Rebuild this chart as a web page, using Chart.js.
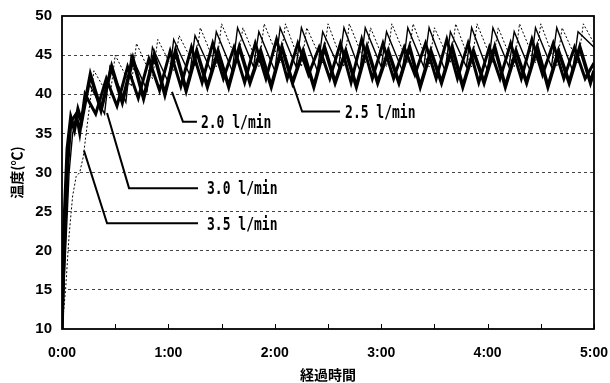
<!DOCTYPE html>
<html><head><meta charset="utf-8">
<script src="https://cdn.jsdelivr.net/npm/chart.js@4"></script>
<style>html,body{margin:0;padding:0;background:#fff}</style>
</head><body>
<canvas id="c" width="610" height="383"></canvas>
<script>
// ---- axis ticks ----
const xTickMinutes = [0, 60, 120, 180, 240, 300];
const xTickLabels = ['0:00', '1:00', '2:00', '3:00', '4:00', '5:00'];
const xMinorTicks = [30, 90, 150, 210, 270];
const yTicks = [10, 15, 20, 25, 30, 35, 40, 45, 50];

// ---- series (time in minutes, temperature in °C) ----
const seriesNames = ['2.0 l/min', '2.5 l/min', '3.0 l/min', '3.5 l/min'];

const t20 = [0,1,3,5,7,9,11,16,22,28,34,40,46,52,58,64,70,76,82,88,94,100,106,112,118,124,130,136,142,148,154,160,166,172,178,184,190,196,202,208,214,220,226,232,238,244,250,256,262,268,274,280,286,292,298,300];
const v20 = [10,22,33,37,35.5,38,36.5,42.5,38,43.5,39,44.5,39.5,45,40,45.5,40.5,45.5,41,45.5,41,46,41.5,45.5,41,46,41.5,45.5,41,46,41.5,45.5,41,46,41.5,45.5,41.5,46,41,45.5,41.5,46,41,45.5,41.5,46,41,45.5,41.5,46,41,45.5,41.5,46,41.5,43];

const t25 = [0,1,3,5,8,10,13,19,25,31,37,43,49,55,61,67,73,79,85,91,97,103,109,115,121,127,133,139,145,151,157,163,169,175,181,187,193,199,205,211,217,223,229,235,241,247,253,259,265,271,277,283,289,295,300];
const v25 = [10,18,30,36.5,37.5,35,40,37.5,42,38.5,43.5,39.5,44.5,40.5,45.5,41,46,41.5,46.5,42,46,41.5,46.5,42,47,42,46.5,42.5,46,42,46.5,41.5,47,42,46.5,42,46,42.5,46.5,42,47,42,46.5,41.5,46,42,46.5,42,47,42.5,46.5,42,46,42,44];

const t30 = [0,2,4,6,8,10,15,24,27,36,39,48,51,60,63,72,75,84,87,96,99,108,111,120,123,132,135,144,147,156,159,168,171,180,183,192,195,204,207,216,219,228,231,240,243,252,255,264,267,276,279,288,291,300];
const v30 = [10,20,30,35,37,36,41.5,37.5,43.5,39,45,40.5,46,41.5,47,42.5,47.5,43,48,43,48.5,43.5,48,43,48.5,43.5,48.5,43,48,43.5,48.5,43,48.5,43.5,48,43,48.5,43.5,48.5,43,48,43.5,48.5,43,48.5,43.5,48,43,48.5,43.5,48.5,43,48,46];

const t35 = [0,2,4,6,8,10,12,18,27,30,39,42,51,54,63,66,75,78,87,90,99,102,111,114,123,126,135,138,147,150,159,162,171,174,183,186,195,198,207,210,219,222,231,234,243,246,255,258,267,270,279,282,291,294,300];
const v35 = [10,15,22,27,29.5,30,32,43,39.5,45,41,46.5,42,47,43,47.5,43.5,48.5,43.5,49,44,48.5,43.5,49,44,49,43.5,48.5,44,49,43.5,49,44,48.5,43.5,49,44,49,43.5,48.5,44,49,43.5,49,44,48.5,43.5,49,44,49,43.5,48.5,44,49,46.5];

// ---- callout labels (anchor points in data units) ----
const callouts = [
  { text: seriesNames[0], tip: [62, 40.3], elbow: [68.2, 36.5], end: [76.1, 36.5], gap: 4 },
  { text: seriesNames[1], tip: [128.6, 42.4], elbow: [135.4, 37.8], end: [156.8, 37.8], gap: 5 },
  { text: seriesNames[2], tip: [25.4, 37.6], elbow: [37.8, 28.0], end: [76.7, 28.0], gap: 9 },
  { text: seriesNames[3], tip: [12.4, 32.8], elbow: [25.4, 23.5], end: [76.7, 23.5], gap: 9 }
];

const styles = [
  { w: 3.6, dash: [] },
  { w: 3, dash: [] },
  { w: 1.4, dash: [] },
  { w: 1, dash: [2, 2] }
];
const allT = [t20, t25, t30, t35];
const allV = [v20, v25, v30, v35];

const datasets = seriesNames.map((name, i) => ({
  label: name,
  data: allT[i].map((t, j) => ({ x: t, y: allV[i][j] })),
  borderColor: '#000',
  borderWidth: styles[i].w,
  borderDash: styles[i].dash,
  pointRadius: 0,
  tension: 0,
  fill: false
}));

const decor = {
  id: 'decor',
  afterDatasetsDraw(chart) {
    const { ctx, chartArea: a, scales: { x, y } } = chart;
    ctx.save();
    ctx.strokeStyle = '#000';
    ctx.lineWidth = 1;
    [...xTickMinutes, ...xMinorTicks].forEach(m => {
      const px = Math.round(x.getPixelForValue(m)) + 0.5;
      ctx.beginPath(); ctx.moveTo(px, a.bottom); ctx.lineTo(px, a.bottom - 5); ctx.stroke();
    });
    ctx.lineWidth = 1.8;
    ctx.strokeRect(a.left, a.top, a.right - a.left, a.bottom - a.top);
    ctx.lineWidth = 2;
    ctx.setLineDash([]);
    callouts.forEach(c => {
      const p = v => [x.getPixelForValue(v[0]), y.getPixelForValue(v[1])];
      const [x0, y0] = p(c.tip), [x1, y1] = p(c.elbow), [x2, y2] = p(c.end);
      ctx.beginPath(); ctx.moveTo(x0, y0); ctx.lineTo(x1, y1); ctx.lineTo(x2, y2); ctx.stroke();
      ctx.save();
      ctx.translate(x2 + c.gap, y2 + 1.5);
      ctx.scale(1, 1.4);
      ctx.font = 'bold 13px "DejaVu Sans Mono"';
      ctx.fillStyle = '#000';
      ctx.textBaseline = 'middle';
      ctx.textAlign = 'left';
      ctx.fillText(c.text, 0, 0);
      ctx.restore();
    });
    ctx.restore();
  }
};

new Chart(document.getElementById('c'), {
  type: 'line',
  data: { datasets },
  plugins: [decor],
  options: {
    responsive: false,
    animation: false,
    devicePixelRatio: 1,
    layout: { padding: { top: 16, right: 16, left: 0, bottom: 0 } },
    plugins: { legend: { display: false }, tooltip: { enabled: false } },
    scales: {
      x: {
        type: 'linear', min: 0, max: 300,
        afterBuildTicks: s => { s.ticks = xTickMinutes.map(v => ({ value: v })); },
        afterFit: s => { s.height = 54; s.paddingLeft = 0; s.paddingRight = 0; },
        ticks: {
          callback: v => xTickLabels[xTickMinutes.indexOf(v)],
          font: { family: 'Liberation Sans', size: 14, weight: 'bold' },
          color: '#000', padding: 16, maxRotation: 0, autoSkip: false
        },
        grid: { display: false, drawTicks: false },
        border: { display: false },
        title: {
          display: true, text: '経過時間', color: '#000',
          font: { family: 'Noto Sans CJK JP', size: 14, weight: 'bold' },
          padding: { top: 0, bottom: 0 }
        }
      },
      y: {
        min: 10, max: 50,
        afterBuildTicks: s => { s.ticks = yTicks.map(v => ({ value: v })); },
        afterFit: s => { s.width = 62; s.paddingTop = 0; s.paddingBottom = 0; },
        ticks: {
          font: { family: 'Liberation Sans', size: 15, weight: 'bold' },
          color: '#000', padding: 10
        },
        grid: {
          drawTicks: false, lineWidth: 1,
          color: c => (c.tick && (c.tick.value === 10 || c.tick.value === 50)) ? 'rgba(0,0,0,0)' : '#444'
        },
        border: { display: false, dash: [3, 3] },
        title: {
          display: true, text: '温度(℃)', color: '#000',
          font: { family: 'Noto Sans CJK JP', size: 14, weight: 'bold' },
          padding: { top: 8, bottom: 0 }
        }
      }
    }
  }
});
</script>
</body></html>
